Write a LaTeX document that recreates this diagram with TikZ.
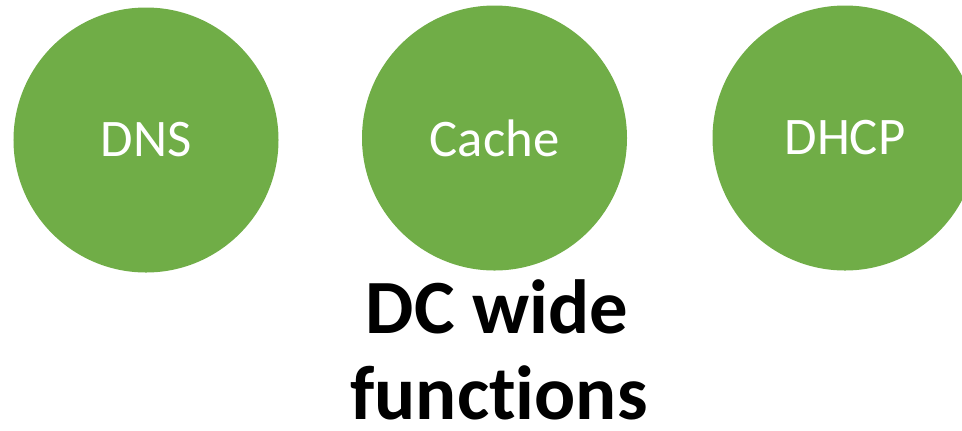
\documentclass[tikz,border=0pt]{standalone}
\usepackage{fontspec}
\setmainfont[Ligatures=NoCommon]{Carlito}
\definecolor{officegreen}{HTML}{70AD47}
\tikzset{
  func/.style={circle, fill=officegreen, minimum size=265bp, inner sep=0pt, text=white, font=\fontsize{53}{60}\selectfont},
  title/.style={font=\fontsize{77}{90}\bfseries\selectfont, text=black, inner sep=0pt, anchor=base}
}
\begin{document}
\begin{tikzpicture}[x=1bp,y=-1bp]
\useasboundingbox (0,0) rectangle (962,430);
\node[func] (dns) at (146,140) {DNS};
\node[func] (cache) at (494.5,138) {Cache};
\node[func] (dhcp) at (845,138) {DHCP};
\node[title] (t1) at (497,333) {DC wide};
\node[title] (t2) at (499,419) {functions};
\end{tikzpicture}
\end{document}
